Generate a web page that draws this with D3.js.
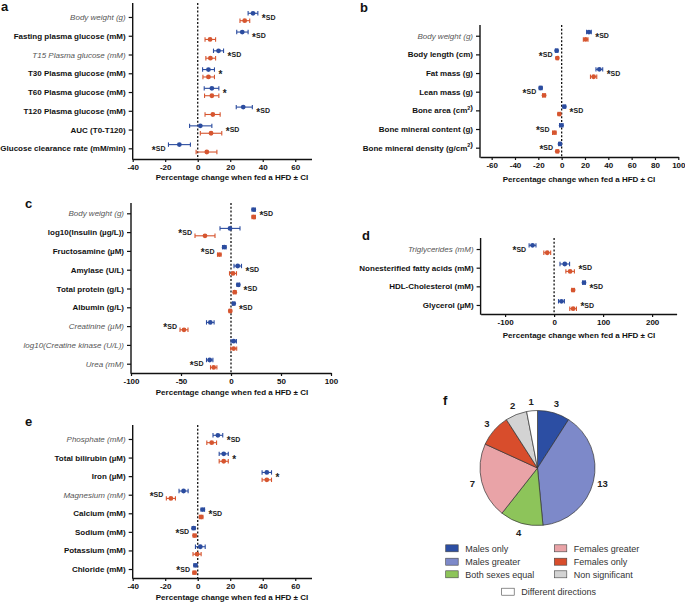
<!DOCTYPE html>
<html><head><meta charset="utf-8">
<script src="https://cdn.jsdelivr.net/npm/d3@7"></script>
<style>body{margin:0;background:#fff} svg{display:block;font-family:"Liberation Sans",Arial,sans-serif}</style>
</head><body><svg id="chart" width="685" height="603"></svg>
<script>
// ---------- Panel a ----------
const aCategories = ["Body weight (g)","Fasting plasma glucose (mM)","T15 Plasma glucose (mM)","T30 Plasma glucose (mM)","T60 Plasma glucose (mM)","T120 Plasma glucose (mM)","AUC (T0-T120)","Glucose clearance rate (mM/min)"];
const aItalic = [1,0,1,0,0,0,0,0];
const aMale   = [34, 27.4, 12.8, 6.6, 8.7, 28, 1.6, -11.3];
const aMaleLo = [31, 24, 9.7, 3, 4, 23.7, -5, -18];
const aMaleHi = [37, 31, 15.9, 10.3, 13, 33.6, 8.7, -4.5];
const aFemale   = [28.9, 7.6, 7.8, 6.6, 8.7, 9.3, 8.2, 5.6];
const aFemaleLo = [26, 4.5, 5, 3.2, 4.2, 4.5, 1.6, -1];
const aFemaleHi = [32, 11, 11, 10.3, 13, 13.8, 14.8, 11.8];
const aAnnot = ["*SD","*SD","*SD","*","*","*SD","*SD","*SD"];
const aTicks = [-40,-20,0,20,40,60];

// ---------- Panel b ----------
const bCategories = ["Body weight (g)","Body length (cm)","Fat mass (g)","Lean mass (g)","Bone area (cm²)","Bone mineral content (g)","Bone mineral density (g/cm²)"];
const bItalic = [1,0,0,0,0,0,0];
const bMale   = [23.4, -4.3, 32.3, -18, 2.3, -0.3, -1.4];
const bMaleLo = [21.4, -5.3, 29.4, -19.2, 1.2, -1.8, -2.5];
const bMaleHi = [25.4, -3.3, 35.2, -16.8, 3.4, 1.2, -0.3];
const bFemale   = [20.6, -3.7, 27.4, -15.1, -2, -6.3, -3.7];
const bFemaleLo = [18.6, -4.7, 24.7, -16.4, -3.1, -7.8, -4.8];
const bFemaleHi = [22.6, -2.7, 30.1, -13.8, -0.9, -4.8, -2.6];
const bAnnot = ["*SD","*SD","*SD","*SD","*SD","*SD","*SD"];
const bTicks = [-60,-40,-20,0,20,40,60,80,100];

// ---------- Panel c ----------
const cCategories = ["Body weight (g)","log10(Insulin (µg/L))","Fructosamine (µM)","Amylase (U/L)","Total protein (g/L)","Albumin (g/L)","Creatinine (µM)","log10(Creatine kinase (U/L))","Urea (mM)"];
const cItalic = [1,0,0,0,0,0,1,1,1];
const cMale   = [22.7, -1, -6.7, 6.7, 7.3, 2.7, -20.7, 2.7, -21.3];
const cMaleLo = [21, -11, -8.5, 3, 6, 1.5, -24.5, 0, -24.5];
const cMaleHi = [24.4, 9, -4.9, 10.5, 8.6, 3.9, -16.9, 5.4, -18.1];
const cFemale   = [22.7, -26, -11.7, 2, 3.7, -0.7, -47, 2.7, -17.3];
const cFemaleLo = [21, -36, -13.5, -1.5, 2.4, -1.9, -51, -0.3, -20.5];
const cFemaleHi = [24.4, -16, -9.9, 5.5, 5, 0.5, -43, 5.7, -14.1];
const cAnnot = ["*SD","*SD","*SD","*SD","*SD","*SD","*SD","","*SD"];
const cTicks = [-100,-50,0,50,100];

// ---------- Panel d ----------
const dCategories = ["Triglycerides (mM)","Nonesterified fatty acids (mM)","HDL-Cholesterol (mM)","Glycerol (µM)"];
const dItalic = [1,0,0,0];
const dMale   = [-44, 21.8, 61, 15];
const dMaleLo = [-51, 12, 58, 9];
const dMaleHi = [-37, 31.6, 64, 21];
const dFemale   = [-14, 32.7, 38.8, 38.8];
const dFemaleLo = [-21, 24, 36, 32];
const dFemaleHi = [-7, 41.4, 41.6, 45.6];
const dAnnot = ["*SD","*SD","*SD","*SD"];
const dTicks = [-100,0,100,200];

// ---------- Panel e ----------
const eCategories = ["Phosphate (mM)","Total bilirubin (µM)","Iron (µM)","Magnesium (mM)","Calcium (mM)","Sodium (mM)","Potassium (mM)","Chloride (mM)"];
const eItalic = [1,0,0,1,0,0,0,0];
const eMale   = [12.4, 16, 42.5, -8.7, 3.1, -2.5, 1.6, -1.4];
const eMaleLo = [9.4, 13.2, 39.6, -11.5, 2, -3.4, -1.4, -2.3];
const eMaleHi = [15.4, 18.8, 45.4, -5.9, 4.2, -1.6, 4.6, -0.5];
const eFemale   = [8.6, 16, 42.5, -16.5, 2.1, -1.9, -0.4, -2];
const eFemaleLo = [5.6, 13.2, 39.6, -19.3, 1, -2.8, -2.9, -2.9];
const eFemaleHi = [11.6, 18.8, 45.4, -13.7, 3.2, -1, 2.1, -1.1];
const eAnnot = ["*SD","*","*","*SD","*SD","*SD","","*SD"];
const eTicks = [-40,-20,0,20,40,60];

// ---------- Panel f (pie) ----------
const fCategories = ["Males only","Males greater","Both sexes equal","Females greater","Females only","Non significant","Different directions"];
const fCounts = [3, 13, 4, 7, 3, 2, 1];
const fColors = ["#2c4ea3","#7d89c9","#8dc45a","#e9a3a7","#d84d2c","#d3d3d3","#ffffff"];

const xTitle = "Percentage change when fed a HFD ± CI";
const MALE = "#2b4c9f", FEMALE = "#d6552f";

const svg = d3.select("#chart");

function drawLabel(sel, txt) {
  const parts = txt.split("²");
  parts.forEach((p, i) => {
    sel.append("tspan").text(p);
    if (i < parts.length - 1) {
      sel.append("tspan").attr("font-size", "5.5px").attr("dy", -3.5).text("2");
      sel.append("tspan").attr("dy", 3.5).text("");
    }
  });
}

function panel(c) {
  const g = svg.append("g");
  const x = d3.scaleLinear().domain(c.domain).range(c.xRange);
  const y = d3.scalePoint().domain(c.cats).range(c.yRange).padding(0.5);
  const x0 = c.xRange[0];

  // bottom axis
  const ax = g.append("g").attr("transform", `translate(0,${c.lineBottom})`)
    .call(d3.axisBottom(x).tickValues(c.ticks).tickSize(3).tickSizeOuter(0).tickPadding(2).tickFormat(d => String(d)));
  ax.select(".domain").attr("stroke", "#111").attr("stroke-width", 1.4);
  ax.selectAll(".tick line").attr("stroke", "#111").attr("stroke-width", 1.2);
  ax.selectAll(".tick text").attr("font-size", "8px").attr("font-weight", "bold").attr("fill", "#111")
    .attr("font-family", '"Liberation Sans",Arial,sans-serif');

  // left axis
  g.append("line").attr("x1", x0).attr("x2", x0).attr("y1", c.lineTop).attr("y2", c.lineBottom + 0.7)
    .attr("stroke", "#111").attr("stroke-width", 1.4);
  const ay = g.append("g").attr("transform", `translate(${x0},0)`)
    .call(d3.axisLeft(y).tickSize(4).tickSizeOuter(0).tickFormat(""));
  ay.select(".domain").remove();
  ay.selectAll(".tick line").attr("stroke", "#111").attr("stroke-width", 1.2);

  c.cats.forEach((cat, i) => {
    const t = g.append("text").attr("x", x0 - 7).attr("y", y(cat) + 3)
      .attr("text-anchor", "end").attr("font-size", "8px")
      .attr("font-weight", c.italic[i] ? "normal" : "bold")
      .attr("font-style", c.italic[i] ? "italic" : "normal")
      .attr("fill", c.italic[i] ? "#555" : "#111");
    drawLabel(t, cat);
  });

  // zero line
  g.append("line").attr("x1", x(0)).attr("x2", x(0)).attr("y1", c.lineTop).attr("y2", c.lineBottom)
    .attr("stroke", "#111").attr("stroke-width", 1.3).attr("stroke-dasharray", "2,1.8");

  // x title
  g.append("text").attr("x", c.titleX).attr("y", c.titleY).attr("text-anchor", "middle")
    .attr("font-size", "8px").attr("font-weight", "bold").attr("fill", "#111").text(xTitle);

  // panel letter
  g.append("text").attr("x", c.letterX).attr("y", c.letterY).attr("font-size", "13px")
    .attr("font-weight", "bold").attr("fill", "#111").text(c.letter);

  // series
  const series = [
    {m: c.male, lo: c.maleLo, hi: c.maleHi, col: MALE, off: -3.7},
    {m: c.female, lo: c.femaleLo, hi: c.femaleHi, col: FEMALE, off: 3.7}
  ];
  series.forEach(s => {
    const sg = g.append("g").attr("stroke", s.col).attr("fill", s.col).attr("stroke-width", 1.1);
    c.cats.forEach((cat, i) => {
      const yy = y(cat) + s.off;
      sg.append("line").attr("x1", x(s.lo[i])).attr("x2", x(s.hi[i])).attr("y1", yy).attr("y2", yy);
      [s.lo[i], s.hi[i]].forEach(v => sg.append("line").attr("x1", x(v)).attr("x2", x(v)).attr("y1", yy - 2.2).attr("y2", yy + 2.2));
      sg.append("circle").attr("cx", x(s.m[i])).attr("cy", yy).attr("r", 2.4).attr("stroke", "none");
    });
  });

  // annotations
  c.cats.forEach((cat, i) => {
    const a = c.annot[i];
    if (!a) return;
    const right = (c.male[i] + c.female[i]) / 2 >= 0;
    const xx = right ? x(Math.max(c.maleHi[i], c.femaleHi[i])) + 4 : x(Math.min(c.maleLo[i], c.femaleLo[i])) - 3;
    const t = g.append("text").attr("x", xx).attr("y", y(cat) + 2.6)
      .attr("text-anchor", right ? "start" : "end").attr("font-size", "7px").attr("font-weight", "bold").attr("fill", "#222");
    t.append("tspan").attr("font-size", "10px").attr("dy", 2.6).text("*");
    t.append("tspan").attr("dy", -2.6).text(a.slice(1));
  });
}

panel({cats: aCategories, italic: aItalic, male: aMale, maleLo: aMaleLo, maleHi: aMaleHi,
  female: aFemale, femaleLo: aFemaleLo, femaleHi: aFemaleHi, annot: aAnnot, ticks: aTicks,
  domain: [-40, 70], xRange: [132.7, 311.5], yRange: [7.6, 157.7], lineTop: 3, lineBottom: 159,
  titleX: 232, titleY: 179.5, letter: "a", letterX: 1, letterY: 11});

panel({cats: bCategories, italic: bItalic, male: bMale, maleLo: bMaleLo, maleHi: bMaleHi,
  female: bFemale, femaleLo: bFemaleLo, femaleHi: bFemaleHi, annot: bAnnot, ticks: bTicks,
  domain: [-70, 100], xRange: [480, 678.3], yRange: [26.4, 157], lineTop: 25, lineBottom: 157,
  titleX: 579, titleY: 182, letter: "b", letterX: 360, letterY: 12});

panel({cats: cCategories, italic: cItalic, male: cMale, maleLo: cMaleLo, maleHi: cMaleHi,
  female: cFemale, femaleLo: cFemaleLo, femaleHi: cFemaleHi, annot: cAnnot, ticks: cTicks,
  domain: [-100, 100], xRange: [131, 331], yRange: [203.9, 373.1], lineTop: 203, lineBottom: 373,
  titleX: 232, titleY: 395, letter: "c", letterX: 25, letterY: 208});

panel({cats: dCategories, italic: dItalic, male: dMale, maleLo: dMaleLo, maleHi: dMaleHi,
  female: dFemale, femaleLo: dFemaleLo, femaleHi: dFemaleHi, annot: dAnnot, ticks: dTicks,
  domain: [-150, 250], xRange: [480.6, 676.6], yRange: [239.7, 314.3], lineTop: 238, lineBottom: 314,
  titleX: 579, titleY: 338, letter: "d", letterX: 362, letterY: 240});

panel({cats: eCategories, italic: eItalic, male: eMale, maleLo: eMaleLo, maleHi: eMaleHi,
  female: eFemale, femaleLo: eFemaleLo, femaleHi: eFemaleHi, annot: eAnnot, ticks: eTicks,
  domain: [-40, 70], xRange: [132.7, 311.5], yRange: [429.7, 578.3], lineTop: 425, lineBottom: 578,
  titleX: 232, titleY: 599.5, letter: "e", letterX: 25, letterY: 426});

// ---------- pie ----------
const pieG = svg.append("g").attr("transform", "translate(537.5,468)");
const pie = d3.pie().sort(null).value(d => d)(fCounts);
const arc = d3.arc().innerRadius(0).outerRadius(57.5);
const labelArc = d3.arc().innerRadius(67).outerRadius(67);
pieG.selectAll("path").data(pie).enter().append("path")
  .attr("d", arc).attr("fill", (d, i) => fColors[i]).attr("stroke", "#333").attr("stroke-width", 0.7);
pieG.selectAll("text").data(pie).enter().append("text")
  .attr("transform", d => `translate(${labelArc.centroid(d)})`)
  .attr("text-anchor", "middle").attr("dy", "0.35em")
  .attr("font-size", "9.5px").attr("font-weight", "bold").attr("fill", "#222")
  .text(d => d.data);
svg.append("text").attr("x", 443).attr("y", 405).attr("font-size", "13px").attr("font-weight", "bold").attr("fill", "#111").text("f");

// legend
const legX = [445.7, 554.3], legY = [548.3, 561.7, 574.3];
fCategories.forEach((name, i) => {
  let sx, cy;
  if (i < 6) { sx = legX[Math.floor(i / 3)]; cy = legY[i % 3]; }
  else { sx = 501.7; cy = 591.7; }
  svg.append("rect").attr("x", sx).attr("y", cy - 3.5).attr("width", 12.5).attr("height", 7)
    .attr("fill", fColors[i]).attr("stroke", "#444").attr("stroke-width", 0.6);
  svg.append("text").attr("x", sx + 19.5).attr("y", cy + 3.2).attr("font-size", "9px").attr("fill", "#333").text(name);
});
</script></body></html>
